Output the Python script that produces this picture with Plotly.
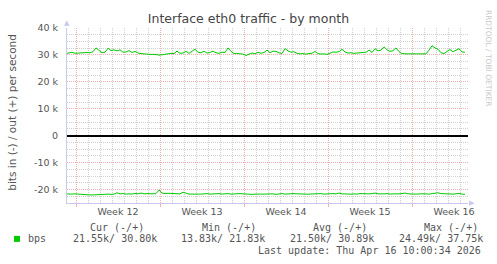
import pandas as pd
import plotly.graph_objects as go

# ---------------- data (k bits per second, 6-hourly samples) ----------------
out_k = [30.5, 30.7, 31.0, 30.6, 30.7, 30.8, 30.7, 30.9, 30.8, 31.2,
         32.6, 31.6, 30.8, 31.0, 32.5, 31.6, 31.9, 31.5, 31.9, 31.0,
         31.1, 31.6, 30.9, 31.3, 30.7, 30.5, 30.3, 30.3, 30.2, 30.3,
         30.2, 29.9, 30.0, 30.1, 30.4, 30.6, 30.5, 31.4, 30.6, 30.7,
         31.3, 30.6, 31.2, 32.1, 31.0, 30.8, 31.4, 30.7, 30.9, 31.4,
         30.8, 30.6, 31.0, 30.9, 32.6, 31.3, 30.5, 30.6, 30.4, 30.3,
         29.8, 30.4, 30.7, 30.4, 31.0, 30.6, 30.9, 31.8, 30.8, 31.4,
         31.3, 30.8, 30.5, 32.4, 31.5, 31.0, 31.2, 30.6, 30.4, 30.5,
         30.3, 30.5, 30.6, 31.3, 30.5, 30.3, 30.4, 30.2, 30.6, 31.1,
         31.0, 31.2, 32.1, 31.1, 30.7, 30.8, 30.6, 30.7, 30.6, 30.9,
         31.0, 31.8, 30.9, 32.3, 31.5, 31.8, 33.0, 31.9, 31.3, 31.6,
         32.6, 31.2, 30.5, 30.4, 30.4, 30.5, 30.4, 30.4, 30.4, 30.5,
         30.4, 31.8, 33.4, 32.6, 32.1, 30.8, 30.5, 31.3, 32.0, 31.2,
         31.7, 32.3, 31.1, 31.0]
in_k = [21.6, 21.7, 21.7, 21.6, 21.7, 21.8, 22.0, 22.0, 22.0, 22.0,
        21.9, 21.8, 21.8, 21.7, 21.7, 21.8, 21.7, 21.2, 21.6, 21.5,
        21.7, 21.6, 21.7, 21.4, 21.6, 21.3, 21.6, 21.5, 21.6, 21.6,
        21.5, 20.2, 21.3, 21.5, 21.4, 21.5, 21.6, 21.5, 21.6, 21.0,
        21.5, 21.7, 21.7, 21.6, 21.7, 21.7, 21.6, 21.5, 21.7, 21.6,
        21.7, 21.5, 21.7, 21.6, 21.5, 21.7, 21.6, 21.7, 21.5, 21.6,
        21.7, 21.6, 21.8, 21.7, 21.6, 21.7, 21.7, 21.6, 21.7, 21.6,
        21.8, 21.6, 21.5, 21.7, 21.6, 21.7, 21.5, 21.6, 21.7, 21.6,
        21.7, 21.7, 21.6, 21.7, 21.6, 21.5, 21.7, 21.6, 21.7, 21.5,
        21.6, 21.3, 21.6, 21.7, 21.6, 21.7, 21.6, 21.7, 21.5, 21.6,
        21.7, 21.6, 21.5, 21.3, 21.6, 21.7, 21.6, 21.5, 21.7, 21.6,
        21.7, 21.6, 21.5, 21.3, 21.6, 21.7, 21.6, 21.7, 21.6, 21.5,
        21.6, 21.7, 21.6, 21.5, 21.2, 21.5, 21.6, 21.7, 21.8, 21.7,
        21.6, 21.4, 21.7, 21.8]
last_sample = "2026-04-16 10:00"
times = pd.date_range(end=last_sample, periods=len(out_k), freq="6h")

week_starts = ["2026-03-15", "2026-03-22", "2026-03-29", "2026-04-05", "2026-04-12"]
week_mids = ["2026-03-18 12:00", "2026-03-25 12:00", "2026-04-01 12:00",
             "2026-04-08 12:00", "2026-04-15 12:00"]
week_labels = ["Week 12", "Week 13", "Week 14", "Week 15", "Week 16"]
x_range = ["2026-03-14 06:00", "2026-04-16 16:00"]

y_ticks = [-20000, -10000, 0, 10000, 20000, 30000, 40000]
y_ticktext = ["-20 k", "-10 k", "0", "10 k", "20 k", "30 k", "40 k"]

legend_head = ["Cur (-/+)", "Min (-/+)", "Avg (-/+)", "Max (-/+)"]
legend_vals = ["21.55k/ 30.80k", "13.83k/ 21.83k", "21.50k/ 30.89k", "24.49k/ 37.75k"]

# ---------------- layout geometry ----------------
W, H = 497, 264
L, R, T, B = 67, 468, 28, 203.5
PW, PH = R - L, B - T

def px(x):
    return (x - L) / PW

def py(y):
    return (B - y) / PH

GREEN = "#00CC00"
MGRID = "#F4B0B0"
GRID = "#D0D0D0"
AXIS = "#C8C8F0"
TXT = "#555555"
SANS = "DejaVu Sans"
MONO = "DejaVu Sans Mono"
DOTS = "1px,1px"

fig = go.Figure()
fig.add_trace(go.Scatter(x=times, y=[v * 1000 for v in out_k], mode="lines",
                         line=dict(color=GREEN, width=1), hoverinfo="skip"))
fig.add_trace(go.Scatter(x=times, y=[-v * 1000 for v in in_k], mode="lines",
                         xaxis="x2", line=dict(color=GREEN, width=1), hoverinfo="skip"))

annotations = []
def txt(x, y, s, size=10, color=TXT, family=MONO, xanchor="left", angle=0):
    annotations.append(dict(xref="paper", yref="paper", x=px(x), y=py(y), text=s,
                            showarrow=False, xanchor=xanchor, yanchor="middle",
                            textangle=angle, borderpad=0,
                            font=dict(family=family, size=size, color=color)))

# y-axis title and watermark
txt(12, 113, "bits in (-) / out (+) per second", size=10.5, family=SANS, xanchor="center", angle=-90)
txt(488, 58, "RRDTOOL / TOBI OETIKER", size=7.5, color="#C8C8C8", family=SANS,
    xanchor="center", angle=90)
# axis arrows
txt(67, 23, "▲", size=7, color=AXIS, family=SANS, xanchor="center")
txt(472, 203.5, "▶", size=7, color=AXIS, family=SANS, xanchor="center")

# legend block
head_x = [89, 201, 312, 423]
val_x = [72, 180, 289, 397.5]
for hx, h in zip(head_x, legend_head):
    txt(hx, 228, h)
txt(27, 239.5, "bps")
for vx, v in zip(val_x, legend_vals):
    txt(vx, 239.5, v)
txt(482, 251.5, "Last update: Thu Apr 16 10:00:34 2026", xanchor="right")

shapes = [dict(type="rect", xref="paper", yref="paper",
               x0=px(14), x1=px(20), y0=py(242.5), y1=py(236.5),
               fillcolor=GREEN, line=dict(width=0))]

fig.update_layout(
    width=W, height=H,
    margin=dict(l=L, r=W - R, t=T, b=H - B, pad=0),
    paper_bgcolor="white", plot_bgcolor="white",
    showlegend=False,
    title=dict(text="Interface eth0 traffic - by month", x=0.5, xanchor="center",
               xref="container", y=1 - 18.5 / H, yanchor="middle", yref="container",
               font=dict(family=SANS, size=12.5, color="#444444")),
    xaxis=dict(type="date", range=x_range, tickmode="array", tickvals=week_mids,
               ticktext=week_labels, showgrid=False, zeroline=False,
               showline=True, linecolor=AXIS, linewidth=1, ticks="",
               tickfont=dict(family=SANS, size=9.5, color=TXT),
               minor=dict(tick0="2026-03-15", dtick=86400000, showgrid=True,
                          gridcolor=GRID, griddash=DOTS, gridwidth=1)),
    xaxis2=dict(type="date", range=x_range, overlaying="x", anchor="y", side="bottom",
                tickmode="array", tickvals=week_starts, showticklabels=False,
                showgrid=True, gridcolor=MGRID, griddash=DOTS, gridwidth=1,
                ticks="outside", ticklen=3, tickcolor=MGRID, zeroline=False, showline=False),
    yaxis=dict(range=[-25000, 40000], tickmode="array", tickvals=y_ticks,
               ticktext=y_ticktext, showgrid=True, gridcolor=MGRID,
               griddash=DOTS, gridwidth=1, zeroline=True,
               zerolinecolor="black", zerolinewidth=2,
               showline=True, linecolor=AXIS, linewidth=1, ticks="",
               ticklabelstandoff=6,
               tickfont=dict(family=SANS, size=9.5, color=TXT),
               minor=dict(dtick=2500, tick0=0, showgrid=True, gridcolor=GRID,
                          griddash=DOTS, gridwidth=1)),
    annotations=annotations,
    shapes=shapes,
)

fig.write_html("out.html", config={"displayModeBar": False, "staticPlot": True})
